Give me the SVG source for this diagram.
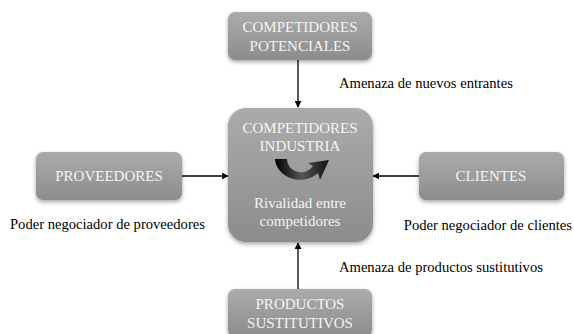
<svg xmlns="http://www.w3.org/2000/svg" width="574" height="334" viewBox="0 0 574 334">
<defs>
<linearGradient id="g" x1="0" y1="0" x2="0" y2="1">
<stop offset="0" stop-color="#ababab"/>
<stop offset="1" stop-color="#8c8c8c"/>
</linearGradient>
<linearGradient id="ga" x1="0" y1="0" x2="1" y2="0">
<stop offset="0" stop-color="#000"/>
<stop offset="0.5" stop-color="#555"/>
<stop offset="1" stop-color="#111"/>
</linearGradient>
<filter id="sh" x="-20%" y="-20%" width="140%" height="150%">
<feDropShadow dx="0" dy="2" stdDeviation="2" flood-color="#000" flood-opacity="0.35"/>
</filter>
<marker id="ah" viewBox="0 0 10 10" refX="9" refY="5" markerWidth="7" markerHeight="7" markerUnits="userSpaceOnUse" orient="auto">
<path d="M0,0 L10,5 L0,10 z" fill="#000"/>
</marker>
</defs>
<style>
.box{fill:url(#g);filter:url(#sh)}
text{font-family:"Liberation Serif","DejaVu Serif",serif}
.bt{font-size:15px;fill:#f4f4f4;text-anchor:middle}
.lbl{font-size:14.6px;fill:#000}
.c{stroke:#000;stroke-width:1.3;fill:none;marker-end:url(#ah)}
</style>
<g id="connectors">
<line class="c" x1="298" y1="60" x2="298" y2="107"/>
<line class="c" x1="182" y1="176" x2="228" y2="176"/>
<line class="c" x1="419" y1="176" x2="373" y2="176"/>
<line class="c" x1="298" y1="289" x2="298" y2="243"/>
</g>
<g id="competidores-potenciales">
<rect class="box" x="228" y="12" width="144" height="48" rx="7"/>
<text class="bt" x="300" y="32">COMPETIDORES</text>
<text class="bt" x="300" y="51">POTENCIALES</text>
</g>
<g id="competidores-industria">
<rect class="box" x="228" y="108" width="145" height="134" rx="18"/>
<text class="bt" x="300" y="133">COMPETIDORES</text>
<text class="bt" x="300" y="151">INDUSTRIA</text>
<path d="M275,159 L287,159 A14,13 0 0 0 313,166 L308,163 L329,160 L320,180 L318,173 A25,22 0 0 1 275,159 z" fill="url(#ga)"/>
<text class="bt" x="300" y="208">Rivalidad entre</text>
<text class="bt" x="300" y="226">competidores</text>
</g>
<g id="proveedores">
<rect class="box" x="36" y="152" width="146" height="48" rx="7"/>
<text class="bt" x="109" y="181">PROVEEDORES</text>
</g>
<g id="clientes">
<rect class="box" x="419" y="152" width="145" height="48" rx="7"/>
<text class="bt" x="491" y="181">CLIENTES</text>
</g>
<g id="productos-sustitutivos">
<rect class="box" x="228" y="289" width="144" height="48" rx="7"/>
<text class="bt" x="300" y="309">PRODUCTOS</text>
<text class="bt" x="300" y="328">SUSTITUTIVOS</text>
</g>
<text class="lbl" x="339" y="88">Amenaza de nuevos entrantes</text>
<text class="lbl" x="10" y="229">Poder negociador de proveedores</text>
<text class="lbl" x="572" y="230" text-anchor="end">Poder negociador de clientes</text>
<text class="lbl" x="339" y="272">Amenaza de productos sustitutivos</text>
</svg>
